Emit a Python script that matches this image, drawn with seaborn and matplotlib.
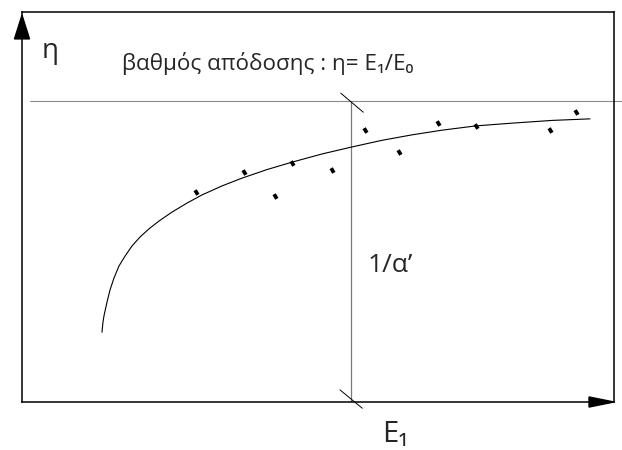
import numpy as np
import pandas as pd
import matplotlib.pyplot as plt
import seaborn as sns

# measured points (E1, eta)
pts_e1 = [2.94, 3.75, 4.27, 4.56, 5.24, 5.79, 6.37, 7.03, 7.67, 8.92, 9.36]
pts_eta = [0.538, 0.590, 0.528, 0.613, 0.595, 0.697, 0.641, 0.715, 0.708, 0.697, 0.744]

# fitted curve
curve_e1 = [1.351, 1.368, 1.385, 1.402, 1.436, 1.486, 1.554, 1.639, 1.740, 1.858,
            1.993, 2.145, 2.314, 2.534, 2.787, 3.041, 3.378, 3.716, 4.139, 4.561,
            5.068, 5.574, 6.081, 6.588, 7.095, 7.669, 8.277, 8.953, 9.595]
curve_eta = [0.179, 0.205, 0.221, 0.233, 0.256, 0.287, 0.318, 0.349, 0.374, 0.400,
             0.423, 0.444, 0.464, 0.487, 0.510, 0.531, 0.554, 0.574, 0.596, 0.615,
             0.636, 0.654, 0.671, 0.685, 0.697, 0.708, 0.715, 0.722, 0.726]

eta_max = 0.772       # horizontal asymptote (1/alpha')
e1_mark = 5.557       # where 1/alpha' is drawn

title_txt = 'βαθμός απόδοσης : η= E₁/E₀'
xlabel_txt = 'E₁'
ylabel_txt = 'η'
asym_txt = '1/α’'

sns.set_style('white')
plt.rcParams['font.family'] = ['Open Sans', 'DejaVu Sans']

fig = plt.figure(figsize=(6.22, 4.5), dpi=100)
ax = fig.add_axes([22 / 622, 48 / 450, 592 / 622, 390 / 450])
ax.set_xlim(0, 10)
ax.set_ylim(0, 1)
ax.set_xticks([])
ax.set_yticks([])
for s in ax.spines.values():
    s.set_visible(True)
    s.set_color('black')
    s.set_linewidth(1.1)

# asymptote + vertical guide
ax.plot([0.135, 10.135], [eta_max, eta_max], color='#8c8c8c', lw=0.8, clip_on=False)
ax.plot([e1_mark, e1_mark], [0, eta_max], color='#7a7a7a', lw=0.9)
ax.plot([5.384, 5.765], [0.792, 0.743], color='black', lw=0.7, clip_on=False)
ax.plot([5.372, 5.748], [0.031, -0.016], color='black', lw=0.7, clip_on=False)

curve = pd.DataFrame({'E1': curve_e1, 'eta': curve_eta})
sns.lineplot(data=curve, x='E1', y='eta', sort=False, color='black', lw=0.8,
             solid_joinstyle='round', ax=ax)

pts = pd.DataFrame({'E1': pts_e1, 'eta': pts_eta})
sns.scatterplot(data=pts, x='E1', y='eta', marker=[(-0.6, 1), (0.6, -1)], s=11,
                color='black', edgecolor='black', linewidth=2.7, ax=ax)

# arrow heads
ax.fill([-0.127, 0.127, 0], [0.931, 0.931, 0.992], color='black', clip_on=False)
ax.fill([9.578, 9.578, 10.0], [0.013, -0.013, 0], color='black', clip_on=False)

ax.text(0.338, 0.882, ylabel_txt, fontsize=20, va='baseline')
ax.text(1.689, 0.851, title_txt, fontsize=16.2, va='baseline')
ax.text(5.845, 0.333, asym_txt, fontsize=19, va='baseline')
ax.text(6.081, -0.103, xlabel_txt, fontsize=21, va='baseline')
ax.set_xlabel('')
ax.set_ylabel('')

fig.savefig('out.png', dpi=100)
